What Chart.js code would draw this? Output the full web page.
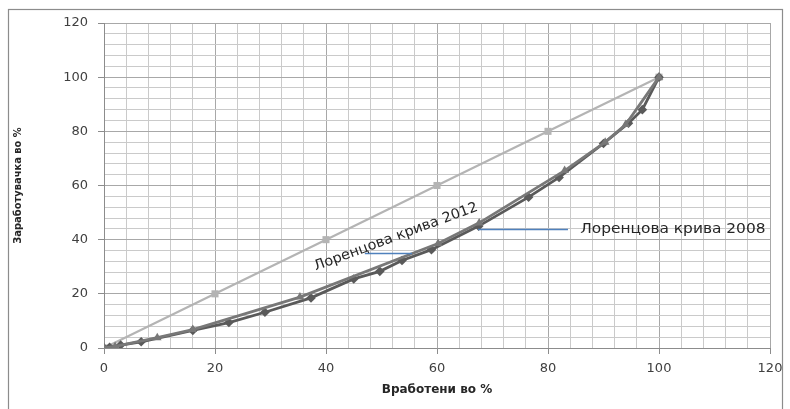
<!DOCTYPE html>
<html>
<head>
<meta charset="utf-8">
<script src="https://cdn.jsdelivr.net/npm/chart.js@4/dist/chart.umd.min.js"></script>
<style>
  html, body { margin: 0; padding: 0; background: #ffffff; }
  #wrap { width: 790px; height: 409px; }
</style>
</head>
<body>
<div id="wrap"><canvas id="c" width="790" height="409"></canvas></div>
<script>
// Line of perfect equality
const equalityX = [0, 20, 40, 60, 80, 100];
const equalityY = [0, 20, 40, 60, 80, 100];

// Lorenz curve, diamond markers
const curveAX = [0, 1, 3, 6.7, 16, 22.5, 29, 37.3, 45, 49.7, 53.7, 59, 67.5, 76.5, 82, 90, 94.5, 97, 100];
const curveAY = [0, 0.3, 1.1, 2.3, 6.5, 9.4, 13.2, 18.5, 25.5, 28.3, 32.3, 36.3, 45, 55.7, 63, 75.5, 83, 88, 100];

// Lorenz curve, triangle markers
const curveBX = [0, 2, 9.6, 16, 35.3, 60.2, 67.6, 83, 90.3, 94, 100];
const curveBY = [0, 0.6, 3.8, 6.8, 18.8, 38.6, 46.2, 65.5, 76, 82.5, 100];

// Axis ranges and label steps
const axisMax = 120;
const majorStep = 20;
const minorStep = 4;

// Callout labels: text, anchor and leader line in data units
const calloutLabels = [
  { text: 'Лоренцова крива 2012', x: 52.6, y: 41.0, angle: -20.3, stretch: 1.03, lineFrom: [47.0, 35.0], lineTo: [55.5, 35.0] },
  { text: 'Лоренцова крива 2008', x: 85.8, y: 43.9, angle: 0, stretch: 1.1, lineFrom: [67.4, 43.9], lineTo: [83.6, 43.9] }
];

const toPoints = (xs, ys) => xs.map((x, i) => ({ x: x, y: ys[i] }));

const isMajor = v => Math.abs(v % majorStep) < 1e-6;

const frame = {
  id: 'frame',
  beforeDraw(chart) {
    const ctx = chart.ctx;
    ctx.save();
    ctx.fillStyle = '#ffffff';
    ctx.fillRect(0, 0, chart.width, chart.height);
    ctx.strokeStyle = '#8c8c8c';
    ctx.lineWidth = 1.2;
    ctx.strokeRect(8.5, 9.5, 774, 420);
    ctx.restore();
  }
};

const callouts = {
  id: 'callouts',
  afterDatasetsDraw(chart) {
    const ctx = chart.ctx;
    const xs = chart.scales.x, ys = chart.scales.y;
    ctx.save();
    calloutLabels.forEach(c => {
      ctx.strokeStyle = '#4f81bd';
      ctx.lineWidth = 1.5;
      ctx.beginPath();
      ctx.moveTo(xs.getPixelForValue(c.lineFrom[0]), Math.round(ys.getPixelForValue(c.lineFrom[1])) + 0.5);
      ctx.lineTo(xs.getPixelForValue(c.lineTo[0]), Math.round(ys.getPixelForValue(c.lineTo[1])) + 0.5);
      ctx.stroke();

      ctx.save();
      ctx.translate(xs.getPixelForValue(c.x), ys.getPixelForValue(c.y));
      ctx.rotate(c.angle * Math.PI / 180);
      ctx.scale(c.stretch, 1);
      ctx.fillStyle = '#262626';
      ctx.font = '14px "DejaVu Sans", sans-serif';
      ctx.textBaseline = 'middle';
      ctx.textAlign = c.angle === 0 ? 'left' : 'center';
      ctx.fillText(c.text, 0, 0);
      ctx.restore();
    });
    ctx.restore();
  }
};

const gridColor = ctx => (ctx.tick && isMajor(ctx.tick.value)) ? '#a8a8a8' : '#cacaca';
const tickMarkColor = ctx => (ctx.tick && isMajor(ctx.tick.value)) ? '#8c8c8c' : 'rgba(0,0,0,0)';
const tickLabel = v => isMajor(v) ? String(v) : '';

new Chart(document.getElementById('c'), {
  type: 'scatter',
  data: {
    datasets: [
      {
        label: 'Лоренцова крива 2012',
        data: toPoints(curveBX, curveBY),
        showLine: true,
        borderColor: '#787878',
        backgroundColor: '#787878',
        borderWidth: 2.8,
        pointStyle: 'triangle',
        pointRadius: 5,
        pointBorderWidth: 0
      },
      {
        label: 'Лоренцова крива 2008',
        data: toPoints(curveAX, curveAY),
        showLine: true,
        borderColor: '#5a5a5a',
        backgroundColor: '#5a5a5a',
        borderWidth: 2.8,
        pointStyle: 'rectRot',
        pointRadius: 4.8,
        pointBorderWidth: 0
      },
      {
        label: 'Линија на еднаквост',
        data: toPoints(equalityX, equalityY),
        showLine: true,
        borderColor: '#b4b4b4',
        backgroundColor: '#b4b4b4',
        borderWidth: 2.2,
        pointStyle: 'rect',
        pointRadius: 5,
        pointBorderWidth: 0
      }
    ]
  },
  options: {
    responsive: false,
    animation: false,
    events: [],
    layout: { padding: { left: 8, right: 20, top: 23, bottom: 0 } },
    plugins: {
      legend: { display: false },
      tooltip: { enabled: false }
    },
    scales: {
      x: {
        type: 'linear',
        min: 0,
        max: axisMax,
        afterFit(scale) { scale.height = 61; },
        border: { color: '#8c8c8c', width: 1 },
        grid: { color: gridColor, tickColor: tickMarkColor, tickLength: 6, drawTicks: true },
        ticks: {
          stepSize: minorStep,
          autoSkip: false,
          maxRotation: 0,
          padding: 7,
          color: '#404040',
          font: { family: '"DejaVu Sans", sans-serif', size: 13 },
          callback: tickLabel
        },
        title: {
          display: true,
          text: 'Вработени во %',
          color: '#262626',
          font: { family: '"DejaVu Sans", sans-serif', size: 12, weight: 'bold' },
          padding: { top: 4, bottom: 12 }
        }
      },
      y: {
        type: 'linear',
        min: 0,
        max: axisMax,
        afterFit(scale) { scale.width = 96; },
        border: { color: '#8c8c8c', width: 1 },
        grid: { color: gridColor, tickColor: tickMarkColor, tickLength: 6, drawTicks: true },
        ticks: {
          stepSize: minorStep,
          autoSkip: false,
          padding: 10,
          color: '#404040',
          font: { family: '"DejaVu Sans", sans-serif', size: 13 },
          callback: tickLabel
        },
        title: {
          display: true,
          text: 'Заработувачка во %',
          color: '#262626',
          font: { family: '"DejaVu Sans Condensed", "DejaVu Sans", sans-serif', size: 11, weight: 'bold' },
          padding: { top: 4, bottom: 0 }
        }
      }
    }
  },
  plugins: [frame, callouts]
});
</script>
</body>
</html>
